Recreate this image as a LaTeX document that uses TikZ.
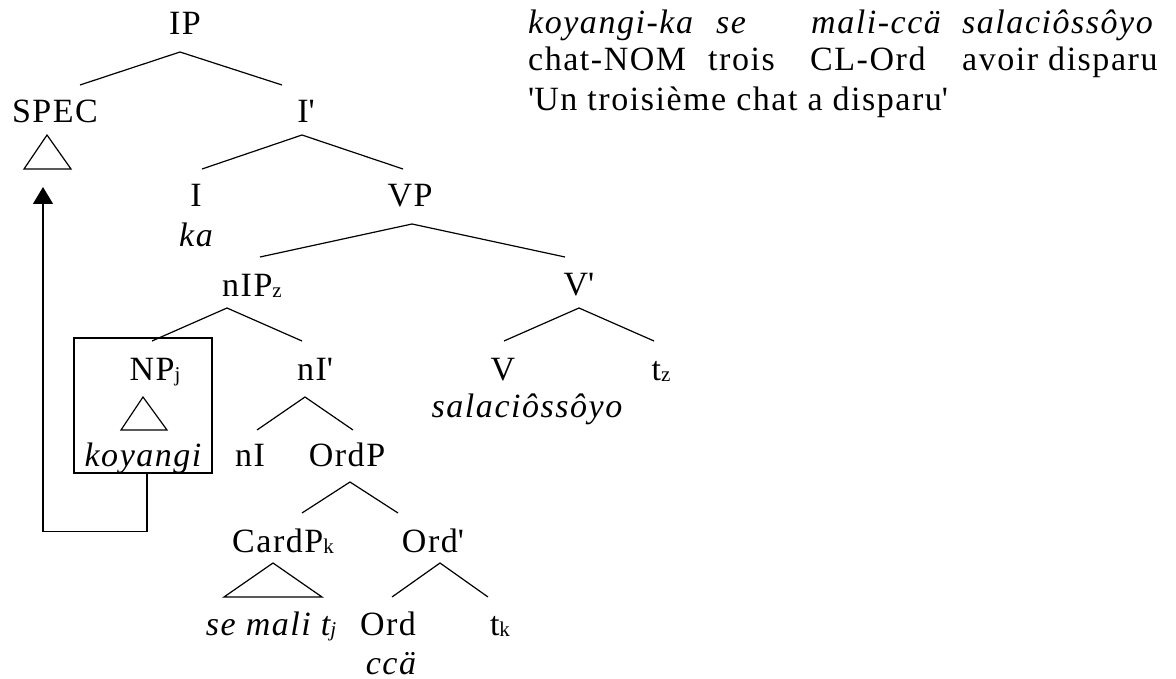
\documentclass[tikz,border=0pt]{standalone}
\usepackage{fontspec}
\setmainfont{Liberation Serif}[LetterSpace=4.5]
\usetikzlibrary{arrows.meta}
\newcommand\subs[1]{\raisebox{-1pt}{\fontsize{21}{21}\selectfont #1}}
\newcommand\pr{\textquotesingle}
\begin{document}
\begin{tikzpicture}[x=1pt,y=-1pt,
  every node/.style={inner sep=0pt,anchor=base,font=\fontsize{34}{40}\selectfont},
  it/.style={font=\fontsize{34}{40}\selectfont\itshape},
  gl/.style={anchor=base west},
  edge/.style={line width=1.2pt},
  mv/.style={line width=1.2pt,-{Triangle[width=20pt,length=17pt]}}]
\useasboundingbox (0,0) rectangle (1176,679);
% tree nodes
\node (IP) at (185,35) {IP};
\node (SPEC) at (55,123) {SPEC};
\node (Ib) at (306,123) {I\pr};
\node (I) at (196,207) {I};
\node[it] (ka) at (196,247) {ka};
\node (VP) at (410,207) {VP};
\node (nIP) at (252,297) {nIP\subs{z}};
\node (Vb) at (579,295) {V\pr};
\node (NP) at (155,380) {NP\subs{j}};
\node (nIb) at (315,380) {nI\pr};
\node (V) at (503,380) {V};
\node (tz) at (661,380) {t\subs{z}};
\node[it] (sal) at (527,417) {salaciôssôyo};
\node[it] (koy) at (143,466) {koyangi};
\node (nI) at (250,466) {nI};
\node (OrdP) at (347,466) {OrdP};
\node (CardP) at (283,552) {CardP\subs{k}};
\node (Ordb) at (433,552) {Ord\pr};
\node[it] (semali) at (271,635) {se mali t\subs{j}};
\node (Ord) at (388,635) {Ord};
\node (tk) at (500,635) {t\subs{k}};
\node[it] (cca) at (391,674) {ccä};
% gloss
\node[it,gl] (g1) at (528,34) {koyangi-ka};
\node[it,gl] (g2) at (716,34) {se};
\node[it,gl] (g3) at (811,34) {mali-ccä};
\node[it,gl] (g4) at (962,34) {salaciôssôyo};
\node[gl] (h1) at (528,71) {chat-NOM};
\node[gl] (h2) at (708,71) {trois};
\node[gl] (h3) at (810,71) {CL-Ord};
\node[gl] (h4) at (962,71) {avoir disparu};
\node[gl] (tr) at (528,111) {\pr Un troisième chat a disparu\pr};
% edges
\draw[edge] ([shift={(25,-38)}]SPEC.base) -- ([shift={(-5,17)}]IP.base) -- ([shift={(-24,-38)}]Ib.base);
\draw[edge] ([shift={(6,-38)}]I.base) -- ([shift={(-4,12)}]Ib.base) -- ([shift={(-7,-38)}]VP.base);
\draw[edge] ([shift={(8,-40)}]nIP.base) -- ([shift={(2,17)}]VP.base) -- ([shift={(-14,-38)}]Vb.base);
\draw[edge] ([shift={(-3,-39)}]NP.base) -- ([shift={(-25,11)}]nIP.base) -- ([shift={(-13,-39)}]nIb.base);
\draw[edge] ([shift={(1,-39)}]V.base) -- ([shift={(0,13)}]Vb.base) -- ([shift={(-7,-39)}]tz.base);
\draw[edge] ([shift={(7,-36)}]nI.base) -- ([shift={(-10,17)}]nIb.base) -- ([shift={(6,-36)}]OrdP.base);
\draw[edge] ([shift={(19,-39)}]CardP.base) -- ([shift={(3,16)}]OrdP.base) -- ([shift={(-35,-39)}]Ordb.base);
\draw[edge] ([shift={(4,-38)}]Ord.base) -- ([shift={(7,11)}]Ordb.base) -- ([shift={(-12,-38)}]tk.base);
% triangles
\draw[edge] ([shift={(-8,12)}]SPEC.base) -- ([shift={(-31,46)}]SPEC.base) -- ([shift={(16,46)}]SPEC.base) -- cycle;
\draw[edge] ([shift={(-12,17)}]NP.base) -- ([shift={(-34,50)}]NP.base) -- ([shift={(12,50)}]NP.base) -- cycle;
\draw[edge] ([shift={(-10,11)}]CardP.base) -- ([shift={(-59,45)}]CardP.base) -- ([shift={(39,45)}]CardP.base) -- cycle;
% box and movement arrow
\node[draw,line width=1.2pt,minimum width=138pt,minimum height=135pt,anchor=center] (box) at (143,405.5) {};
\draw[mv] ([xshift=4pt]box.south) -- ++(0,58) -| ([shift={(-12,64)}]SPEC.base);
\end{tikzpicture}
\end{document}
